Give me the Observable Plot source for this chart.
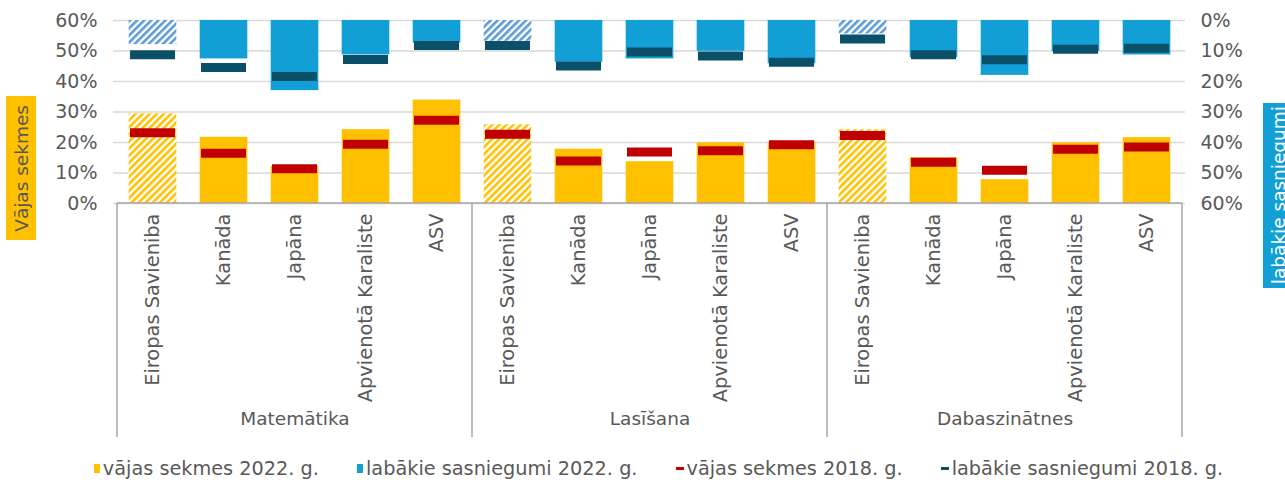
<!DOCTYPE html>
<html>
<head>
<meta charset="utf-8">
<script src="https://cdn.jsdelivr.net/npm/d3@7"></script>
<script src="https://cdn.jsdelivr.net/npm/@observablehq/plot@0.6"></script>
<style>
  body { margin: 0; background: #fff; font-family: "DejaVu Sans", Verdana, sans-serif; }
  #wrap { position: relative; width: 1285px; height: 480px; overflow: hidden; background: #fff; }
  #chart { position: absolute; left: 0; top: 0; }
  .ytitle { position: absolute; display: flex; align-items: center; justify-content: center; font-size: 18.5px; }
  .ytitle span { writing-mode: vertical-rl; transform: rotate(180deg); white-space: nowrap; }
  #legend { position: absolute; left: 32px; top: 456px; width: 1253px; height: 25px; display: flex; justify-content: center; align-items: center; gap: 38px; font-size: 19.3px; color: #595959; }
  .item { display: flex; align-items: center; gap: 3px; white-space: nowrap; }
  .sw { display: inline-block; }
</style>
</head>
<body>
<div id="wrap">
  <div id="chart"></div>
  <div class="ytitle" id="tl" style="left:6px;top:96px;width:30px;height:144px;background:#FFC000;color:#595959;"><span></span></div>
  <div class="ytitle" id="tr" style="left:1263px;top:103px;width:30px;height:185px;background:#119FD6;color:#ffffff;"><span></span></div>
  <div id="legend"></div>
</div>
<script>
// ---- data (percent) ----
const subjects = ["Matemātika", "Lasīšana", "Dabaszinātnes"];
const countries = ["Eiropas Savieniba", "Kanāda", "Japāna", "Apvienotā Karaliste", "ASV"];
// rows: subjects; columns: countries
const weak2022 = [[29.4, 21.7, 12.1, 24.2, 33.9], [25.8, 17.8, 13.7, 19.9, 20.1], [24.2, 15.0, 7.8, 19.9, 21.6]];
const weak2018 = [[23.2, 16.5, 11.4, 19.4, 27.3], [22.7, 13.9, 16.9, 17.3, 19.3], [22.3, 13.5, 10.9, 17.8, 18.5]];
const top2022 = [[7.9, 12.6, 23.0, 11.3, 7.4], [6.8, 13.7, 12.6, 10.1, 14.2], [4.4, 12.2, 18.0, 10.2, 11.3]];
const top2018 = [[11.2, 15.4, 18.4, 12.8, 8.2], [8.2, 14.9, 10.3, 11.6, 13.7], [6.1, 11.2, 12.9, 9.4, 9.1]];
const yTicks = [0, 10, 20, 30, 40, 50, 60];
const yMax = 60;
const seriesNames = ["vājas sekmes 2022. g.", "labākie sasniegumi 2022. g.", "vājas sekmes 2018. g.", "labākie sasniegumi 2018. g."];
const leftTitle = "Vājas sekmes";
const rightTitle = "labākie sasniegumi";
const hatchedCountry = "Eiropas Savieniba";

// ---- colours ----
const cYellow = "#FFC000", cBlue = "#119FD6", cRed = "#C00000", cDark = "#0B5069", cHatchBlue = "#5B9BD5", cText = "#595959";

const rows = subjects.flatMap((s, i) => countries.map((c, j) => ({
  subject: s, country: c, key: s + "|" + c, eu: c === hatchedCountry,
  weak22: weak2022[i][j], weak18: weak2018[i][j], top22: top2022[i][j], top18: top2018[i][j]
})));
const keys = rows.map(d => d.key);
const solid = rows.filter(d => !d.eu), hatched = rows.filter(d => d.eu);

const barInset = 11.7, tickInset = 13;

function defs() {
  const d = d3.create("svg:defs");
  [["hatchY", cYellow], ["hatchB", cHatchBlue]].forEach(([id, col]) => {
    const p = d.append("pattern").attr("id", id).attr("patternUnits", "userSpaceOnUse")
      .attr("width", 5).attr("height", 5).attr("patternTransform", "rotate(45)");
    p.append("rect").attr("width", 5).attr("height", 5).attr("fill", "#fff");
    p.append("rect").attr("width", 2.6).attr("height", 5).attr("fill", col);
  });
  return d.node();
}

function separators(index, scales) {
  const x = scales.x, y = scales.y;
  const bw = x(keys[1]) - x(keys[0]);
  const bounds = subjects.map((s, i) => x(keys[i * countries.length]));
  bounds.push(x(keys[keys.length - 1]) + bw);
  const g = d3.create("svg:g").attr("stroke", "#a6a6a6").attr("stroke-width", 1.5);
  const y0 = y(0);
  bounds.forEach(b => g.append("line").attr("x1", b).attr("x2", b).attr("y1", y0).attr("y2", y0 + 234));
  g.append("line").attr("x1", bounds[0]).attr("x2", bounds[bounds.length - 1]).attr("y1", y0).attr("y2", y0);
  return g.node();
}

const chart = Plot.plot({
  width: 1285, height: 445,
  marginLeft: 113, marginRight: 100, marginTop: 20, marginBottom: 242,
  style: { fontFamily: "DejaVu Sans, Verdana, sans-serif", fontSize: "19px", color: cText, background: "white", overflow: "visible" },
  x: { type: "band", domain: keys, padding: 0, axis: null },
  y: { domain: [0, yMax], axis: null },
  marks: [
    defs,
    Plot.gridY(yTicks, { stroke: "#d9d9d9", strokeOpacity: 1, strokeWidth: 1.3 }),
    // bottom: weak performers
    Plot.barY(solid, { x: "key", y1: 0, y2: "weak22", fill: cYellow, insetLeft: barInset, insetRight: barInset }),
    Plot.barY(hatched, { x: "key", y1: 0, y2: "weak22", fill: "url(#hatchY)", insetLeft: barInset, insetRight: barInset }),
    Plot.tickY(rows, { x: "key", y: "weak18", stroke: cRed, strokeWidth: 9, insetLeft: tickInset, insetRight: tickInset }),
    // top: top performers (hanging from 0% on right axis)
    Plot.barY(solid, { x: "key", y1: yMax, y2: d => yMax - d.top22, fill: cBlue, insetLeft: barInset, insetRight: barInset }),
    Plot.barY(hatched, { x: "key", y1: yMax, y2: d => yMax - d.top22, fill: "url(#hatchB)", insetLeft: barInset, insetRight: barInset }),
    Plot.tickY(rows, { x: "key", y: d => yMax - d.top18, stroke: cDark, strokeWidth: 9, insetLeft: tickInset, insetRight: tickInset }),
    separators,
    Plot.axisY(yTicks, { anchor: "left", tickSize: 0, tickPadding: 16, tickFormat: d => d + "%", fontSize: 19, label: null }),
    Plot.axisY(yTicks, { anchor: "right", tickSize: 0, tickPadding: 15, tickFormat: d => (yMax - d) + "%", fontSize: 19, label: null }),
    Plot.axisX({ tickRotate: -90, tickSize: 0, tickPadding: 10, tickFormat: k => k.split("|")[1], fontSize: 19.4, label: null }),
    Plot.text(subjects, { x: s => s + "|" + countries[2], frameAnchor: "bottom", dy: 221, fontSize: 18.5, fill: cText })
  ]
});
document.getElementById("chart").appendChild(chart);

document.querySelector("#tl span").textContent = leftTitle;
document.querySelector("#tr span").textContent = rightTitle;

const legendSw = [
  { w: 6, h: 9, c: cYellow }, { w: 6, h: 9, c: cBlue }, { w: 8, h: 3, c: cRed }, { w: 8, h: 3, c: cDark }
];
const lg = d3.select("#legend");
seriesNames.forEach((n, i) => {
  const it = lg.append("div").attr("class", "item");
  it.append("span").attr("class", "sw").style("width", legendSw[i].w + "px").style("height", legendSw[i].h + "px").style("background", legendSw[i].c);
  it.append("span").text(n);
});
</script>
</body>
</html>
